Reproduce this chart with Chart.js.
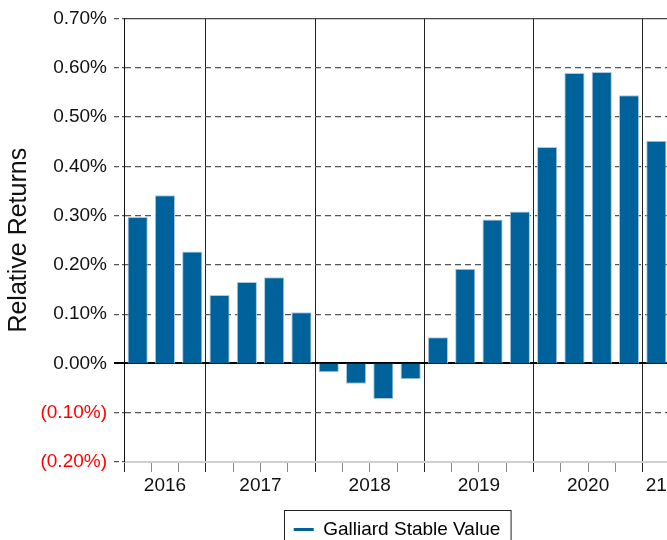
<!DOCTYPE html>
<html>
<head>
<meta charset="utf-8">
<script src="https://cdn.jsdelivr.net/npm/chart.js@4.4.1/dist/chart.umd.min.js"></script>
<style>
    html, body { margin: 0; padding: 0; overflow: hidden; background: #fff; }
    #wrap { position: absolute; left: 0; top: 0; width: 700px; height: 560px; }
</style>
</head>
<body>
<div id="wrap"><canvas id="barChart" width="700" height="560"></canvas></div>
<script>
// quarters shown on the chart (starts at 2016 Q2, ends at 2021 Q1)
const quarters = [
    '2016 Q2', '2016 Q3', '2016 Q4',
    '2017 Q1', '2017 Q2', '2017 Q3', '2017 Q4',
    '2018 Q1', '2018 Q2', '2018 Q3', '2018 Q4',
    '2019 Q1', '2019 Q2', '2019 Q3', '2019 Q4',
    '2020 Q1', '2020 Q2', '2020 Q3', '2020 Q4',
    '2021 Q1'
];
// relative returns in percent
const relReturns = [
    0.297, 0.341, 0.227,
    0.139, 0.165, 0.175, 0.104,
    -0.018, -0.041, -0.072, -0.032,
    0.053, 0.192, 0.292, 0.308,
    0.439, 0.589, 0.591, 0.544,
    0.452
];
const yearLabels = ['2016', '2017', '2018', '2019', '2020', '21'];
const seriesName = 'Galliard Stable Value';

const FONT = 'Liberation Sans, Arial, Helvetica, sans-serif';
const BLUE = '#00629b';

// year of each quarter, used for year separators and label centers
function yearOf(i) {
    return quarters[i].split(' ')[0];
}

function isYearBoundary(i) {
    if (typeof i !== 'number') return false;
    if (i <= 0 || i >= quarters.length) return true;
    return yearOf(i) !== yearOf(i - 1);
}

// center index of each year group
let yearCenters = [];
let start = 0;
for (let i = 1; i <= quarters.length; i++) {
    if (i === quarters.length || yearOf(i) !== yearOf(i - 1)) {
        yearCenters.push((start + i - 1) / 2);
        start = i;
    }
}

function tickVal(c) {
    return (c && c.tick) ? c.tick.value : NaN;
}

function fmtPct(v) {
    if (Math.abs(v) < 1e-9) return '0.00%';
    if (v < 0) return '(' + Math.abs(v).toFixed(2) + '%)';
    return v.toFixed(2) + '%';
}

// draws a frame round the legend item
const legendFrame = {
    id: 'legendFrame',
    afterDraw(chart) {
        const box = chart.legend.legendHitBoxes[0];
        if (!box) return;
        const ctx = chart.ctx;
        ctx.save();
        ctx.strokeStyle = '#222';
        ctx.lineWidth = 1;
        ctx.strokeRect(Math.round(box.left - 10) + 0.5, Math.round(box.top - 10) + 0.5, box.width + 20, box.height + 40);
        ctx.restore();
    }
};

function buildBarChart() {
    const data = {
        labels: quarters,
        datasets: [{
            label: seriesName,
            data: relReturns,
            backgroundColor: BLUE,
            borderColor: '#a9c9e2',
            borderWidth: 1,
            barPercentage: 0.74,
            categoryPercentage: 1.0
        }]
    };
    const config = {
        type: 'bar',
        data: data,
        plugins: [legendFrame],
        options: {
            responsive: false,
            animation: false,
            devicePixelRatio: 1,
            layout: {
                padding: { left: 0, top: 18, right: 30, bottom: 11 }
            },
            plugins: {
                tooltip: { enabled: false },
                legend: {
                    position: 'bottom',
                    fullSize: false,
                    labels: {
                        font: { family: FONT, size: 19 },
                        color: '#111',
                        usePointStyle: true,
                        pointStyleWidth: 20,
                        padding: 10,
                        generateLabels: () => [{
                            text: seriesName,
                            pointStyle: 'line',
                            strokeStyle: BLUE,
                            fillStyle: BLUE,
                            lineWidth: 3,
                            datasetIndex: 0
                        }]
                    }
                }
            },
            scales: {
                x: {
                    type: 'category',
                    offset: true,
                    weight: 0,
                    ticks: { display: false },
                    grid: {
                        offset: true,
                        tickLength: 10,
                        lineWidth: 1,
                        color: (c) => isYearBoundary(c.index) ? '#222' : 'rgba(0,0,0,0)',
                        tickColor: (c) => isYearBoundary(c.index) ? '#222' : '#888'
                    },
                    border: { display: true, color: '#cfcfcf', width: 1 },
                    afterFit: (scale) => { scale.height = 10; }
                },
                x2: {
                    type: 'linear',
                    position: 'bottom',
                    weight: 1,
                    offset: false,
                    min: -0.5,
                    max: quarters.length - 0.5,
                    grid: { display: false, drawTicks: false, offset: false },
                    border: { display: false },
                    afterBuildTicks: (scale) => {
                        scale.ticks = yearCenters.map(v => ({ value: v }));
                    },
                    ticks: {
                        autoSkip: false,
                        maxRotation: 0,
                        padding: 2,
                        color: '#111',
                        font: { family: FONT, size: 19 },
                        callback: (value, index) => yearLabels[index]
                    },
                    afterFit: (scale) => { scale.height = 38; }
                },
                y: {
                    min: -0.2,
                    max: 0.7,
                    ticks: {
                        stepSize: 0.1,
                        padding: 7,
                        font: { family: FONT, size: 19 },
                        color: (c) => tickVal(c) < -1e-9 ? '#ff0000' : '#111',
                        callback: (value) => fmtPct(value)
                    },
                    grid: {
                        tickLength: 10,
                        lineWidth: (c) => Math.abs(tickVal(c)) < 1e-9 ? 2 : 1.2,
                        color: (c) => {
                            const v = tickVal(c);
                            if (Math.abs(v) < 1e-9) return '#000';
                            if (Math.abs(v - 0.7) < 1e-9) return '#444';
                            if (Math.abs(v + 0.2) < 1e-9) return '#cfcfcf';
                            return '#555';
                        },
                        tickColor: (c) => Math.abs(tickVal(c)) < 1e-9 ? '#000' : '#555',
                        tickBorderDash: (c) => Math.abs(tickVal(c)) < 1e-9 ? [] : [5, 3]
                    },
                    border: {
                        display: true,
                        color: '#111',
                        width: 1,
                        dash: (c) => {
                            const v = tickVal(c);
                            if (isNaN(v)) return [];
                            if (Math.abs(v) < 1e-9 || Math.abs(v - 0.7) < 1e-9 || Math.abs(v + 0.2) < 1e-9) return [];
                            return [6, 4];
                        }
                    },
                    title: {
                        display: true,
                        text: 'Relative Returns',
                        color: '#111',
                        font: { family: FONT, size: 25 }
                    },
                    afterFit: (scale) => { scale.width = 124; }
                }
            }
        }
    };
    return new Chart(document.getElementById('barChart'), config);
}
buildBarChart();
</script>
</body>
</html>
